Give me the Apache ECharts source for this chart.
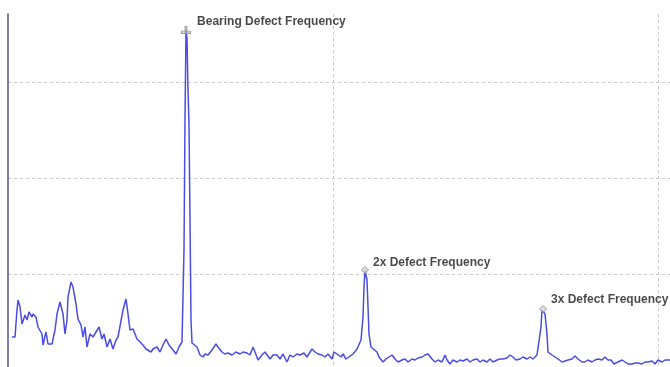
<!DOCTYPE html>
<html>
<head>
<meta charset="utf-8">
<script src="https://cdn.jsdelivr.net/npm/echarts@6/dist/echarts.min.js"></script>
<style>html,body{margin:0;padding:0;background:#fff}#c{width:670px;height:367px}</style>
</head>
<body>
<div id="c"></div>
<script>
// Frequency (arbitrary bins) and amplitude (arbitrary units)
const freq = [4,7,9,10,12,14,17,19,21,24,25,28,30,34,35,38,40,44,47,49,52,55,57,59,60,63,65,68,70,73,75,77,79,82,85,87,91,94,96,99,102,105,108,110,112,115,118,120,122,125,129,132,135,138,140,143,145,149,152,155,158,161,165,168,171,174,175,176,177,178,179,180,181,182,183,184,185,189,192,195,197,200,204,208,210,214,217,220,224,228,232,235,239,242,245,247,250,254,257,259,262,265,269,272,275,279,282,285,289,292,296,299,304,307,310,314,317,320,324,326,329,333,335,338,341,345,349,351,353,355,356,357,359,360,361,363,365,369,371,375,378,380,384,387,390,394,397,400,404,407,410,414,417,420,424,427,430,434,437,439,442,445,449,452,455,459,462,465,469,472,475,479,482,485,489,492,495,499,502,505,508,512,515,519,522,525,529,531,533,534,535,537,539,540,544,547,550,554,557,560,564,567,570,574,577,580,584,587,590,594,597,600,603,606,610,614,617,620,624,627,630,634,637,640,644,647,650,654,657,660,664];
const amp  = [33,33,60,70,63,46,55,50,58,53,56,53,43,36,25,38,26,26,40,56,68,56,36,50,73,88,83,66,51,45,33,43,23,36,33,31,43,31,36,23,31,21,30,33,35,60,71,56,40,41,31,28,25,21,23,18,21,23,18,25,31,25,20,16,23,28,28,120,250,340,332,280,246,150,50,27,25,23,15,13,16,15,20,26,23,18,16,17,15,18,16,18,17,15,23,18,10,15,18,16,11,15,15,11,16,8,15,13,16,15,17,13,21,18,16,15,13,16,11,18,16,13,16,11,13,16,21,23,30,53,83,100,90,63,36,23,21,18,13,8,11,10,15,11,8,10,11,8,11,10,12,13,15,16,11,8,10,8,15,10,6,10,8,10,9,11,8,10,11,8,10,8,11,8,10,11,11,12,15,13,10,11,13,11,13,11,15,16,43,60,61,56,36,18,15,13,11,8,9,10,11,14,11,8,8,10,8,10,11,10,13,10,10,6,8,10,8,6,6,7,7,6,8,8,9,6,10,8,10,10,10];

const peakFreq   = [178, 357, 535];
const peakAmp    = [340, 100, 61];
const peakLabels = ['Bearing Defect Frequency', '2x Defect Frequency', '3x Defect Frequency'];

const chart = echarts.init(document.getElementById('c'), null, {renderer: 'canvas'});

const lineData = freq.map((f, i) => [f, amp[i]]);
const peakData = peakFreq.map((f, i) => ({
  value: [f, peakAmp[i]],
  symbol: i === 0 ? 'path://M0,4 L10,4 L10,6 L0,6 Z M4,0 L6,0 L6,6 L4,6 Z' : 'diamond',
  symbolSize: i === 0 ? [9, 7] : 7,
  label: { distance: i === 0 ? 6 : 4, offset: [0, i === 0 ? -8 : (i === 1 ? -7 : -9)] }
}));

chart.setOption({
  animation: false,
  backgroundColor: '#ffffff',
  grid: { left: 8, top: 14, width: 662, height: 356, containLabel: false, outerBoundsMode: 'none' },
  xAxis: {
    type: 'value', min: 0, max: 662, interval: 325,
    axisLine: { show: false }, axisTick: { show: false }, axisLabel: { show: false },
    splitLine: { show: true, showMaxLine: false, lineStyle: { color: '#c8c8c8', type: [3, 3], width: 1 } }
  },
  yAxis: {
    type: 'value', min: 0, max: 356, interval: 96,
    axisLine: { show: true, lineStyle: { color: '#7e7ea8', width: 2 } },
    axisTick: { show: false }, axisLabel: { show: false },
    splitLine: { show: true, showMaxLine: false, lineStyle: { color: '#c8c8c8', type: [3, 3], width: 1 } }
  },
  series: [
    {
      type: 'line', data: lineData, showSymbol: false, smooth: false,
      lineStyle: { color: '#4b4be6', width: 1.5 }, z: 2
    },
    {
      type: 'scatter', data: peakData, z: 3,
      itemStyle: { color: '#d8d8d8', borderColor: '#888888', borderWidth: 1 },
      label: {
        show: true, position: 'right',
        formatter: p => peakLabels[p.dataIndex],
        fontFamily: 'Liberation Sans, Arial, sans-serif', fontWeight: 'bold', fontSize: 12,
        color: '#1a1a1a'
      }
    }
  ]
});
</script>
</body>
</html>
